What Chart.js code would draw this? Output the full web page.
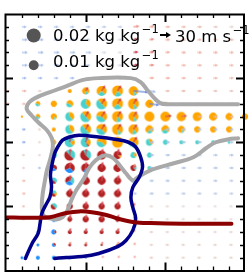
<!DOCTYPE html>
<html>
<head>
<meta charset="utf-8">
<script src="https://cdn.jsdelivr.net/npm/chart.js@4.4.1/dist/chart.umd.min.js"></script>
<style>
  html, body { margin: 0; padding: 0; background: #fff; }
  #wrap { width: 250px; height: 278px; }
</style>
</head>
<body>
<div id="wrap"><canvas id="chart" width="250" height="278"></canvas></div>
<script>
// grid units: x 0..15 (west -> east), y 0..20 (south -> north)

// moisture pies: [x, y, total q (kg/kg), orange, cyan, red, blue share]
const pies = [
  [4,14,.0016,1,0,0,0],[5,14,.005,.85,.15,0,0],[6,14,.0102,.75,.25,0,0],[7,14,.0123,.8,.2,0,0],[8,14,.0092,.9,.1,0,0],
  [2,13,.0026,.6,.4,0,0],[3,13,.0037,1,0,0,0],[4,13,.005,.6,.4,0,0],[5,13,.0102,.35,.65,0,0],[6,13,.0123,.5,.5,0,0],
  [7,13,.0123,.75,.25,0,0],[8,13,.0123,.9,.1,0,0],[9,13,.0065,1,0,0,0],[10,13,.0016,1,0,0,0],
  [1,12,.0006,1,0,0,0],[2,12,.0026,.6,.4,0,0],[3,12,.0037,.9,.1,0,0],[4,12,.0083,.4,.6,0,0],[5,12,.0123,.5,.5,0,0],
  [6,12,.0123,.6,.4,0,0],[7,12,.0123,.85,.15,0,0],[8,12,.0102,.9,.1,0,0],[9,12,.0102,1,0,0,0],[10,12,.0102,1,0,0,0],
  [11,12,.0092,1,0,0,0],[12,12,.0083,1,0,0,0],[13,12,.0065,1,0,0,0],[14,12,.005,1,0,0,0],[15,12,.0037,1,0,0,0],
  [3,11,.0016,1,0,0,0],[4,11,.0083,.4,.6,0,0],[5,11,.0123,.5,.5,0,0],[6,11,.0123,.6,.4,0,0],[7,11,.0123,.9,.1,0,0],
  [8,11,.0102,.85,.15,0,0],[9,11,.0065,.8,.2,0,0],[10,11,.0065,.7,.3,0,0],[11,11,.005,.9,.1,0,0],[12,11,.0037,1,0,0,0],
  [13,11,.0037,1,0,0,0],[14,11,.0037,1,0,0,0],
  [3,10,.0026,1,0,0,0],[4,10,.0102,.2,.8,0,0],[5,10,.0102,.25,.7,.05,0],[6,10,.0102,.6,.4,0,0],[7,10,.0123,1,0,0,0],
  [8,10,.0102,.6,.4,0,0],[9,10,.005,.4,.6,0,0],[10,10,.0026,0,1,0,0],[11,10,.0016,0,1,0,0],[12,10,.0016,0,1,0,0],
  [13,10,.0016,0,1,0,0],[14,10,.0009,0,1,0,0],
  [3,9,.0037,0,.7,.3,0],[4,9,.0123,0,.5,.5,0],[5,9,.0123,0,.45,.55,0],[6,9,.0083,0,0,1,0],[7,9,.0065,.1,0,.9,0],
  [8,9,.0037,.3,.7,0,0],[9,9,.0026,0,1,0,0],
  [3,8,.0037,0,0,.7,.3],[4,8,.0102,0,0,.7,.3],[5,8,.0083,0,0,.8,.2],[6,8,.0065,0,0,1,0],[7,8,.0065,0,0,1,0],
  [8,8,.0037,0,.2,.8,0],[9,8,.0016,0,1,0,0],
  [3,7,.0037,0,.6,.4,0],[4,7,.0083,0,.3,.4,.3],[5,7,.0065,0,0,1,0],[6,7,.0065,0,0,1,0],[7,7,.005,0,0,1,0],[8,7,.0016,0,1,0,0],
  [3,6,.0037,.2,.4,.4,0],[4,6,.005,0,0,1,0],[5,6,.005,0,0,1,0],[6,6,.005,0,0,1,0],[7,6,.005,0,0,1,0],
  [3,5,.0037,0,.5,.5,0],[4,5,.0037,0,0,1,0],[5,5,.0037,0,0,1,0],[6,5,.0037,0,0,1,0],[7,5,.0037,0,0,1,0],
  [3,4,.0026,0,0,.5,.5],[4,4,.0026,0,0,1,0],[5,4,.0037,0,0,1,0],[6,4,.0037,0,0,1,0],[7,4,.0026,0,0,1,0],
  [2,3,.0009,0,0,0,1],[3,3,.0026,0,0,.3,.7],[4,3,.0016,0,0,1,0],[5,3,.0016,0,0,1,0],[6,3,.0016,0,0,1,0],[7,3,.0016,0,0,1,0],
  [2,2,.0009,0,0,0,1],[3,2,.0016,0,0,.4,.6],[4,2,.0009,0,0,1,0],[5,2,.0009,0,0,1,0],[6,2,.0006,0,0,1,0],[7,2,.0006,0,0,1,0],
  [1,1,.0009,0,0,0,1],[2,1,.0016,0,0,0,1],[3,1,.0016,0,0,0,1],[4,1,.0009,0,0,0,1],[5,1,.0004,0,0,0,1]
];

// wind vectors: [x, y, u (m/s), v (m/s), shade (-1 blue .. +1 red)]
const winds = [
  [1,19,15,0,-.35],[2,19,15,0,-.35],[3,19,15,0,-.35],[4,19,15,0,-.3],[5,19,15,0,-.3],[6,19,15,0,-.25],[7,19,15,0,-.2],
  [8,19,18,2,.6],[9,19,15,1,.5],[10,19,15,0,.35],[11,19,15,0,.3],[12,19,15,0,.3],[13,19,15,0,.2],[14,19,15,0,.1],
  [1,18,18,0,-.45],[2,18,18,0,-.45],[3,18,18,0,-.4],[4,18,18,0,-.4],[5,18,15,0,-.2],[6,18,15,0,-.15],[7,18,15,0,-.1],
  [8,18,12,3,.85],[9,18,15,2,.6],[10,18,15,0,.4],[11,18,15,0,.35],[12,18,15,0,.35],[13,18,15,0,.3],[14,18,15,0,.3],
  [1,17,18,0,-.45],[2,17,18,0,-.45],[3,17,18,0,-.45],[4,17,18,0,-.4],[5,17,18,0,-.35],[6,17,15,0,-.1],[7,17,15,0,-.05],
  [8,17,15,2,.9],[9,17,15,2,.65],[10,17,15,1,.45],[11,17,15,0,.4],[12,17,15,0,.4],[13,17,15,0,.4],[14,17,15,0,.35],
  [1,16,18,0,-.45],[2,16,18,0,-.4],[3,16,18,0,-.4],[4,16,15,0,-.3],[5,16,15,0,-.25],[6,16,15,0,-.2],[7,16,15,0,-.1],
  [8,16,15,2,.9],[9,16,15,1,.6],[10,16,15,0,.4],[11,16,15,0,.35],[12,16,15,0,.35],[13,16,15,0,.35],[14,16,15,0,.3],
  [1,15,15,0,-.4],[2,15,15,0,-.4],[3,15,15,0,-.35],[4,15,15,0,-.4],[5,15,15,0,-.35],[6,15,15,0,-.3],[7,15,15,0,-.45],
  [8,15,12,0,0],[9,15,15,1,.45],[10,15,15,0,.4],[11,15,15,0,.35],[12,15,15,0,.35],[13,15,15,0,.3],[14,15,15,0,.3],
  [0,14,12,0,.45],[1,14,15,0,.3],[2,14,12,0,.15],[3,14,9,0,-.5],[5,14,8,12,.8],[6,14,11,17,.85],[7,14,11,17,.85],
  [8,14,45,-4,-.8],[9,14,20,-3,-.5],[10,14,14,0,.3],[11,14,14,0,.3],[12,14,14,0,.3],[13,14,14,0,.25],[14,14,14,0,.2],
  [0,13,12,0,.45],[1,13,12,0,.3],[6,13,11,17,.85],[7,13,11,17,.85],[8,13,11,17,.85],[9,13,30,-4,-.75],[10,13,15,0,-.3],
  [11,13,14,0,.3],[12,13,14,0,.3],[13,13,14,0,.25],[14,13,14,0,.2],
  [0,12,10,0,.1],[5,12,9,17,.85],[6,12,11,17,.85],[7,12,11,17,.85],[8,12,11,16,.8],[10,12,20,3,.8],[11,12,18,3,.7],
  [12,12,15,0,.35],[13,12,15,0,.3],[14,12,15,0,.3],
  [0,11,12,0,-.5],[1,11,12,0,-.55],[2,11,10,0,.15],[5,11,9,17,.85],[6,11,11,17,.85],[7,11,11,17,.85],[8,11,11,16,.8],
  [9,11,15,0,-.35],[10,11,15,0,-.3],[11,11,15,0,-.3],[12,11,15,0,-.3],[13,11,15,0,-.3],[14,11,15,0,-.3],
  [0,10,12,0,-.5],[1,10,12,0,-.55],[2,10,10,0,.1],[4,10,3,20,.85],[5,10,6,18,.85],[8,10,11,17,.85],
  [9,10,15,0,-.35],[10,10,15,0,-.35],[11,10,15,0,-.35],[12,10,15,0,-.35],[13,10,15,0,-.3],[14,10,15,0,-.3],
  [0,9,10,0,-.4],[1,9,10,0,.15],[2,9,10,0,.1],[4,9,3,20,.8],[5,9,3,20,.8],[6,9,4,20,.8],[7,9,4,20,.8],
  [9,9,15,0,-.35],[10,9,15,0,-.35],[11,9,15,0,-.3],[12,9,15,0,-.3],[13,9,15,0,-.3],[14,9,15,0,-.3],
  [0,8,10,0,.1],[1,8,10,0,.15],[2,8,10,0,-.4],[4,8,3,19,.8],[5,8,3,19,.8],[6,8,4,19,.8],[7,8,4,19,.8],[8,8,6,13,.6],
  [9,8,15,0,-.4],[10,8,15,0,-.35],[11,8,15,0,-.35],[12,8,15,0,-.3],[13,8,15,0,-.3],[14,8,15,0,-.3],
  [1,7,12,0,.3],[4,7,3,18,.8],[5,7,3,18,.8],[6,7,4,18,.8],[7,7,4,18,.8],[8,7,10,0,-.4],
  [9,7,14,0,-.35],[10,7,14,0,-.35],[11,7,14,0,-.3],[12,7,14,0,-.3],[13,7,14,0,-.3],[14,7,14,0,-.25],
  [1,6,12,0,.3],[4,6,3,17,.8],[5,6,3,17,.8],[6,6,4,17,.8],[7,6,4,17,.8],[8,6,10,0,-.4],
  [9,6,14,0,-.35],[10,6,14,0,-.3],[11,6,14,0,-.3],[12,6,14,0,-.3],[13,6,14,0,-.25],[14,6,14,0,-.25],
  [1,5,10,0,.3],[4,5,3,16,.8],[5,5,3,16,.8],[6,5,4,16,.8],[7,5,4,16,.8],[8,5,5,11,.7],
  [9,5,12,0,.1],[10,5,12,0,.1],[11,5,12,0,.05],[12,5,12,0,.05],[13,5,12,0,.05],[14,5,12,0,.05],
  [1,4,10,0,.15],[4,4,3,15,.75],[5,4,3,15,.75],[6,4,4,15,.75],[7,4,4,15,.75],[8,4,5,10,.5],
  [9,4,12,0,.1],[10,4,12,0,.05],[11,4,12,0,.05],[12,4,12,0,.05],[13,4,12,0,.05],[14,4,12,0,.05],
  [4,3,3,13,.7],[5,3,3,13,.7],[6,3,4,13,.7],[7,3,4,13,.7],[8,3,6,9,.45],
  [9,3,12,0,.15],[10,3,12,0,.1],[11,3,12,0,.1],[12,3,12,0,.1],[13,3,12,0,.1],[14,3,12,0,.1],
  [4,2,3,10,.6],[5,2,3,10,.6],[6,2,4,10,.6],[7,2,5,10,.55],[8,2,8,6,.45],
  [9,2,12,0,.15],[10,2,12,0,.15],[11,2,12,0,.15],[12,2,12,0,.15],[13,2,12,0,.15],[14,2,12,0,.15],
  [5,1,6,4,.3],[6,1,8,5,.4],[7,1,8,5,.4],[8,1,8,5,.4],
  [9,1,12,0,.2],[10,1,12,0,.15],[11,1,12,0,.15],[12,1,12,0,.15],[13,1,12,0,.15],[14,1,12,0,.15]
];

// contour lines: [x, y]
const grayContour = [
  [14.57,10.31],[13.96,10.23],[13.17,10.0],[12.55,9.53],[11.76,8.83],[10.53,8.36],[9.06,7.81],[8.27,7.27],[7.96,7.03],
  [7.53,7.58],[7.23,8.05],[6.74,8.75],[6.25,8.98],[5.63,8.59],[5.21,7.97],[4.90,7.19],[4.41,6.25],[4.10,5.47],
  [3.86,4.69],[3.55,4.16],[3.18,3.98],[2.76,4.06],[2.35,4.30],[2.25,4.95],[2.31,6.02],[2.45,7.03],[2.57,7.81],
  [2.76,8.59],[2.94,9.61],[2.88,10.31],[2.57,10.94],[2.02,11.56],[1.6,12.11],[1.3,12.6],[1.45,13.1],[1.96,13.52],
  [2.76,13.91],[3.80,14.38],[4.78,14.84],[5.82,15.0],[7.84,15.0],[8.45,14.69],[8.88,14.06],[9.31,13.44],[9.68,13.05],
  [10.10,12.97],[14.57,12.97]
];
const blueContour = [
  [1.22,0.94],[1.64,2.11],[2.02,2.89],[2.14,3.67],[2.25,4.45],[2.55,5.23],[2.76,5.73],[2.86,6.51],[2.79,7.42],
  [2.86,8.07],[3.06,9.14],[3.25,9.63],[3.55,10.16],[3.98,10.41],[4.59,10.55],[5.82,10.41],[6.84,10.23],[7.65,10.02],
  [8.14,9.63],[8.45,8.85],[8.57,8.07],[8.37,7.29],[7.96,6.48],[7.84,5.70],[7.96,4.92],[8.14,4.06],[7.96,3.13],
  [7.53,2.34],[7.04,1.88],[5.82,1.33],[4.78,1.09],[3.78,1.02],[3.06,0.94]
];
const redContour = [
  [0,4.14],[0.92,4.12],[1.71,4.12],[2.76,4.16],[3.78,4.48],[4.59,4.61],[5.39,4.55],[6.23,4.35],[7.04,4.04],
  [8.06,3.77],[9.06,3.70],[11.14,3.65],[14.15,3.65]
];

// legend keys
const legendQ = [0.02, 0.01];
const legendQLabels = ['0.02 kg kg', '0.01 kg kg'];
const refSpeed = 30;
const refSpeedLabel = '30 m s';

const SLICE_COLORS = ['#ffa500', '#48d1cc', '#b22222', '#1e90ff'];
const PX_PER_MS = 10 / 30;

function qRadius(q) {
  return 7 * Math.sqrt(q / 0.02);
}

function pieCanvas(r, shares) {
  const s = Math.ceil(r) * 2 + 2;
  const cv = document.createElement('canvas');
  cv.width = s; cv.height = s;
  const g = cv.getContext('2d');
  let a = Math.PI / 4;
  shares.forEach((f, k) => {
    if (!f) return;
    const b = a - f * 2 * Math.PI;
    g.beginPath();
    g.moveTo(s / 2, s / 2);
    g.arc(s / 2, s / 2, r, a, b, true);
    g.closePath();
    g.fillStyle = SLICE_COLORS[k];
    g.fill();
    a = b;
  });
  return cv;
}

function mix(a, b, t) {
  return a.map((v, i) => Math.round(v + (b[i] - v) * t));
}

function shadeColor(c) {
  const mid = [226, 226, 226];
  const half = c < 0 ? [150, 180, 236] : [245, 160, 140];
  const end = c < 0 ? [40, 80, 215] : [190, 20, 50];
  const t = Math.min(1, Math.abs(c));
  const rgb = t < 0.5 ? mix(mid, half, t / 0.5) : mix(half, end, (t - 0.5) / 0.5);
  return 'rgb(' + rgb.join(',') + ')';
}

function arrowCanvas(len, color) {
  const s = Math.ceil(len + 4) * 2;
  const cv = document.createElement('canvas');
  cv.width = s; cv.height = s;
  const g = cv.getContext('2d');
  const c = s / 2;
  const head = Math.min(3, len * 0.6);
  g.strokeStyle = color;
  g.fillStyle = color;
  g.lineWidth = 1.1;
  g.beginPath();
  g.moveTo(c, c);
  g.lineTo(c + len - head + 0.5, c);
  g.stroke();
  g.beginPath();
  g.moveTo(c + len, c);
  g.lineTo(c + len - head, c - 1.6);
  g.lineTo(c + len - head, c + 1.6);
  g.closePath();
  g.fill();
  return cv;
}

const pieStyles = pies.map(p => pieCanvas(qRadius(p[2]), p.slice(3)));
const windStyles = winds.map(w => arrowCanvas(Math.hypot(w[2], w[3]) * PX_PER_MS, shadeColor(w[4])));
const windRotation = winds.map(w => -Math.atan2(w[3], w[2]) * 180 / Math.PI);

const toXY = arr => arr.map(p => ({ x: p[0], y: p[1] }));

// frame, inward ticks and legend
const framePlugin = {
  id: 'frame',
  afterDraw(chart) {
    const { ctx, chartArea: a, scales: { x, y } } = chart;
    ctx.save();
    ctx.strokeStyle = '#000';
    ctx.lineWidth = 2;
    ctx.strokeRect(a.left + 0.5, a.top + 0.5, a.right - a.left - 1.5, a.bottom - a.top);
    const right = a.right - 1;
    for (let i = 1; i < 15; i++) {
      const px = Math.round(x.getPixelForValue(i)) + 0.5;
      const len = i % 5 === 0 ? 8 : 4;
      ctx.lineWidth = i % 5 === 0 ? 2 : 1.3;
      ctx.beginPath();
      ctx.moveTo(px, a.top); ctx.lineTo(px, a.top + len);
      ctx.moveTo(px, a.bottom); ctx.lineTo(px, a.bottom - len);
      ctx.stroke();
    }
    for (let j = 1; j < 20; j++) {
      const py = Math.round(y.getPixelForValue(j)) + 0.5;
      const len = j % 5 === 0 ? 8 : 4;
      ctx.lineWidth = j % 5 === 0 ? 2 : 1.3;
      ctx.beginPath();
      ctx.moveTo(a.left, py); ctx.lineTo(a.left + len, py);
      ctx.moveTo(right, py); ctx.lineTo(right - len, py);
      ctx.stroke();
    }

    // legend
    ctx.fillStyle = '#555';
    const cy = [35.5, 65.3];
    legendQ.forEach((q, k) => {
      ctx.beginPath();
      ctx.arc(33.7, cy[k], qRadius(q), 0, Math.PI * 2);
      ctx.fill();
    });
    ctx.fillStyle = '#000';
    ctx.textBaseline = 'alphabetic';
    const base = [41, 66.7];
    legendQLabels.forEach((t, k) => {
      ctx.font = '16.5px "DejaVu Sans"';
      ctx.fillText(t, 53, base[k]);
      const w = ctx.measureText(t).width;
      ctx.font = '11.5px "DejaVu Sans"';
      ctx.fillText('\u22121', 53 + w + 1.5, base[k] - 8);
    });
    // reference arrow
    const L = refSpeed * PX_PER_MS;
    ctx.strokeStyle = '#000';
    ctx.lineWidth = 2;
    ctx.beginPath();
    ctx.moveTo(160, 35); ctx.lineTo(160 + L - 3, 35);
    ctx.stroke();
    ctx.beginPath();
    ctx.moveTo(160 + L + 1, 35); ctx.lineTo(160 + L - 4, 32); ctx.lineTo(160 + L - 4, 38);
    ctx.closePath(); ctx.fill();
    ctx.font = '16.5px "DejaVu Sans"';
    ctx.fillText(refSpeedLabel, 175, 41.5);
    const w2 = ctx.measureText(refSpeedLabel).width;
    ctx.font = '11.5px "DejaVu Sans"';
    ctx.fillText('\u22121', 175 + w2 + 1.5, 33.5);
    ctx.restore();
  }
};

new Chart(document.getElementById('chart'), {
  type: 'scatter',
  data: {
    datasets: [
      {
        label: 'moisture',
        data: toXY(pies),
        pointStyle: pieStyles,
        pointRadius: 3,
        showLine: false,
        clip: false,
        order: 5
      },
      {
        label: 'wind',
        data: toXY(winds),
        pointStyle: windStyles,
        rotation: windRotation,
        pointRotation: windRotation,
        pointRadius: 3,
        showLine: false,
        clip: false,
        order: 4
      },
      {
        type: 'line',
        label: 'gray',
        data: toXY(grayContour),
        borderColor: '#a9a9a9',
        borderWidth: 4,
        pointRadius: 0,
        tension: 0.35,
        borderCapStyle: 'round',
        borderJoinStyle: 'round',
        fill: false,
        order: 3
      },
      {
        type: 'line',
        label: 'blue',
        data: toXY(blueContour),
        borderColor: '#00008b',
        borderWidth: 3.5,
        pointRadius: 0,
        tension: 0.35,
        borderCapStyle: 'round',
        borderJoinStyle: 'round',
        fill: false,
        order: 2
      },
      {
        type: 'line',
        label: 'red',
        data: toXY(redContour),
        borderColor: '#8b0000',
        borderWidth: 4,
        pointRadius: 0,
        tension: 0.35,
        borderCapStyle: 'round',
        borderJoinStyle: 'round',
        fill: false,
        order: 1
      }
    ]
  },
  options: {
    responsive: false,
    devicePixelRatio: 1,
    animation: false,
    events: [],
    layout: { padding: { left: 5, right: 0, top: 14, bottom: 7.5 } },
    plugins: { legend: { display: false }, tooltip: { enabled: false } },
    scales: {
      x: { type: 'linear', min: -0.06, max: 15, display: false },
      y: { type: 'linear', min: 0, max: 20, display: false }
    }
  },
  plugins: [framePlugin]
});
</script>
</body>
</html>
